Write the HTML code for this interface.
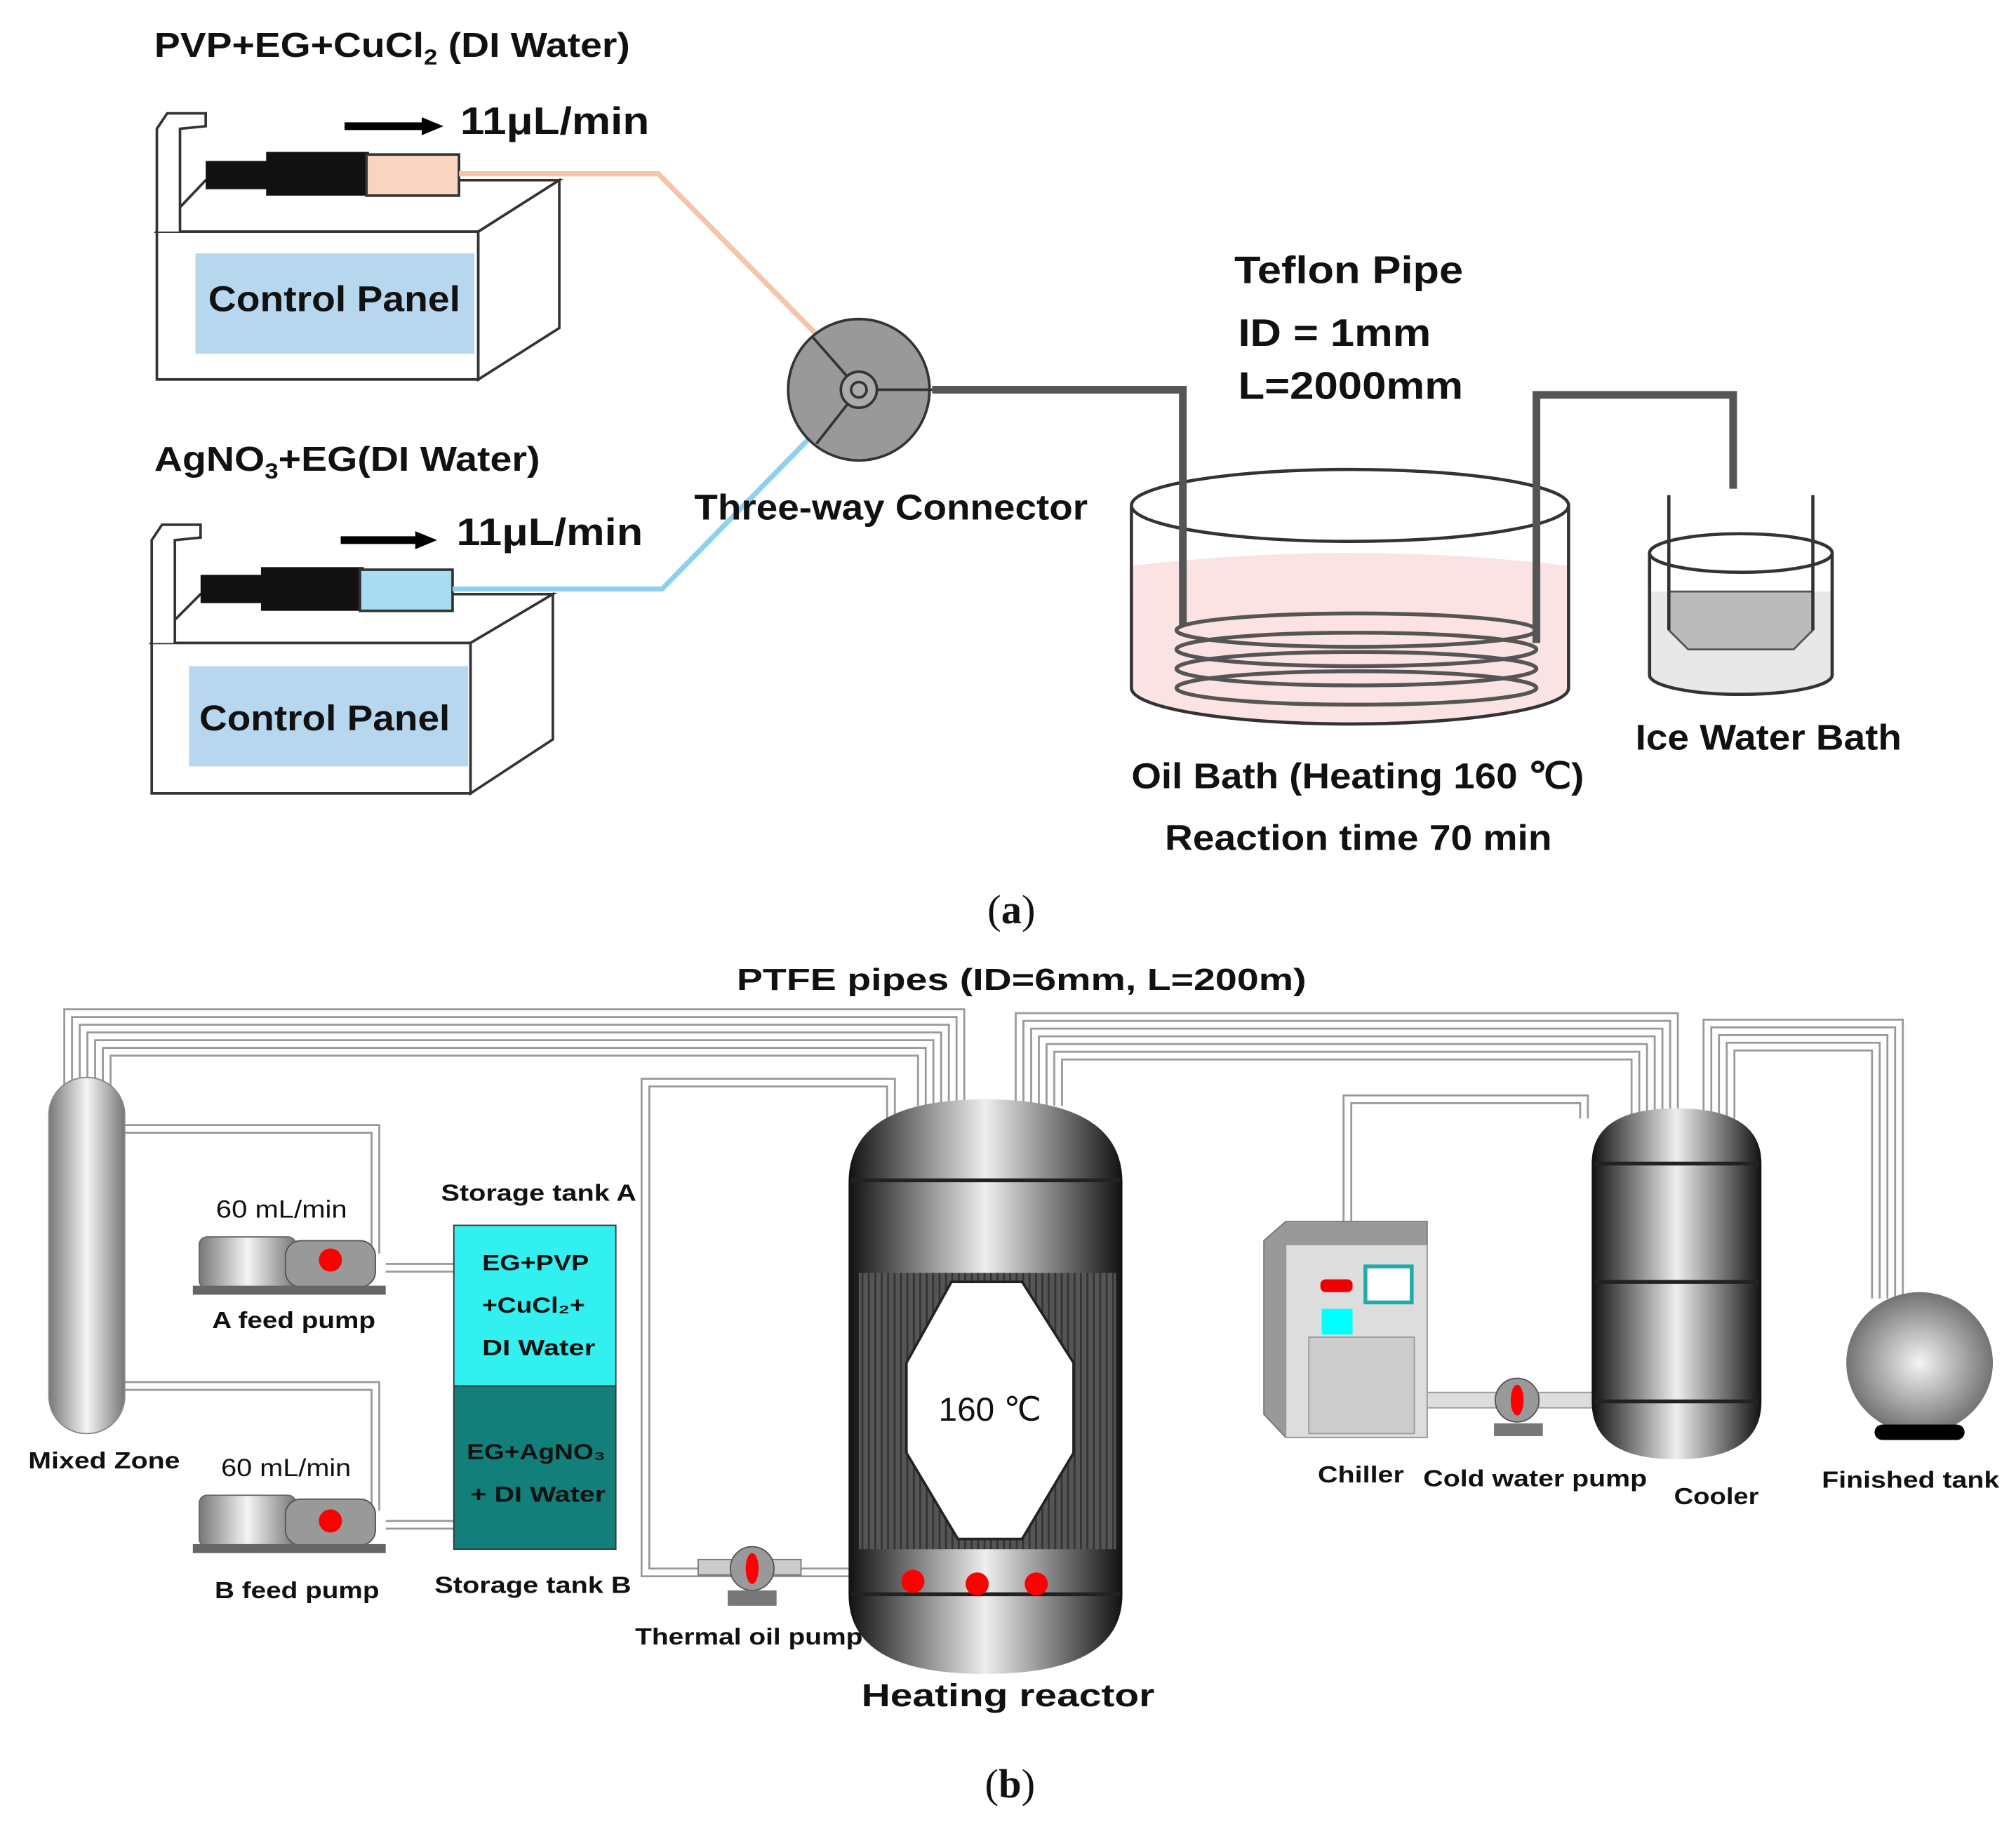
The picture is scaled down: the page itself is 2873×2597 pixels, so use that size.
<!DOCTYPE html>
<html><head><meta charset="utf-8"><style>
html,body{margin:0;padding:0;background:#fff}
svg{display:block}
text{font-family:"Liberation Sans",sans-serif;font-weight:bold;fill:#111}
.s{font-family:"Liberation Serif",serif;font-weight:normal}
</style></head><body>
<svg width="2873" height="2597" viewBox="0 0 1568 1417" xmlns="http://www.w3.org/2000/svg">
<defs>
<linearGradient id="cyl" x1="0" x2="1" y1="0" y2="0">
<stop offset="0" stop-color="#111"/><stop offset="0.5" stop-color="#eee"/><stop offset="1" stop-color="#111"/></linearGradient>
<linearGradient id="cylg" x1="0" x2="1" y1="0" y2="0">
<stop offset="0" stop-color="#777"/><stop offset="0.5" stop-color="#f4f4f4"/><stop offset="1" stop-color="#777"/></linearGradient>
<radialGradient id="sph" cx="0.5" cy="0.5" r="0.55">
<stop offset="0" stop-color="#f4f4f4"/><stop offset="1" stop-color="#666"/></radialGradient>
<pattern id="stripes" width="5" height="10" patternUnits="userSpaceOnUse">
<rect width="5" height="10" fill="#555"/><rect width="1.5" height="10" fill="#333"/></pattern>
</defs>

<!-- ===== (a) ===== -->
<text x="120" y="44" font-size="27" textLength="370" lengthAdjust="spacingAndGlyphs">PVP+EG+CuCl<tspan font-size="17" dy="6">2</tspan><tspan dy="-6"> (DI Water)</tspan></text>

<g stroke="#333" stroke-width="2" fill="#fff">
<path d="M122 180 L160 140 L435 140 L372 180 Z"/>
<rect x="122" y="180" width="250" height="115"/>
<path d="M372 180 L435 140 L435 255 L372 295 Z"/>
<path d="M122 180 L122 100 L130 88 L160 88 L160 98 L140 100 L140 180"/>
</g>
<rect x="152" y="197" width="217" height="78" fill="#b7d7ee"/>
<text x="162" y="242" font-size="28" textLength="196" lengthAdjust="spacingAndGlyphs">Control Panel</text>
<rect x="160" y="125" width="50" height="22" fill="#111"/>
<rect x="207" y="118" width="80" height="34" fill="#111"/>
<rect x="285" y="120" width="72" height="32" fill="#f7d5c0" stroke="#333" stroke-width="2"/>
<line x1="268" y1="98" x2="330" y2="98" stroke="#000" stroke-width="6"/>
<polygon points="328,91 345,98 328,105" fill="#000"/>
<text x="358" y="104" font-size="30" textLength="147" lengthAdjust="spacingAndGlyphs">11μL/min</text>
<polyline points="357,135 512,135 640,265" fill="none" stroke="#f4c5a8" stroke-width="4"/>

<text x="120" y="366" font-size="27" textLength="300" lengthAdjust="spacingAndGlyphs">AgNO<tspan font-size="17" dy="6">3</tspan><tspan dy="-6">+EG(DI Water)</tspan></text>
<g stroke="#333" stroke-width="2" fill="#fff">
<path d="M118 500 L156 462 L430 462 L366 500 Z"/>
<rect x="118" y="500" width="248" height="117"/>
<path d="M366 500 L430 462 L430 575 L366 617 Z"/>
<path d="M118 500 L118 420 L126 408 L156 408 L156 418 L136 420 L136 500"/>
</g>
<rect x="147" y="518" width="217" height="78" fill="#b7d7ee"/>
<text x="155" y="568" font-size="28" textLength="195" lengthAdjust="spacingAndGlyphs">Control Panel</text>
<rect x="156" y="447" width="50" height="22" fill="#111"/>
<rect x="203" y="441" width="80" height="34" fill="#111"/>
<rect x="280" y="443" width="72" height="32" fill="#a8dcf0" stroke="#333" stroke-width="2"/>
<line x1="265" y1="420" x2="325" y2="420" stroke="#000" stroke-width="6"/>
<polygon points="323,413 340,420 323,427" fill="#000"/>
<text x="355" y="424" font-size="30" textLength="145" lengthAdjust="spacingAndGlyphs">11μL/min</text>
<polyline points="352,458 515,458 640,330" fill="none" stroke="#8fd0ee" stroke-width="4"/>

<circle cx="668" cy="303" r="55" fill="#999" stroke="#333" stroke-width="2"/>
<path d="M668 303 L725 303 M668 303 L632 262 M668 303 L635 345" stroke="#333" stroke-width="2"/>
<circle cx="668" cy="303" r="14" fill="#aaa" stroke="#333" stroke-width="2"/>
<circle cx="668" cy="303" r="6" fill="#aaa" stroke="#333" stroke-width="2"/>
<text x="540" y="404" font-size="28" textLength="306" lengthAdjust="spacingAndGlyphs">Three-way Connector</text>

<text x="960" y="220" font-size="30" textLength="178" lengthAdjust="spacingAndGlyphs">Teflon Pipe</text>
<text x="963" y="269" font-size="30" textLength="150" lengthAdjust="spacingAndGlyphs">ID = 1mm</text>
<text x="963" y="310" font-size="30" textLength="175" lengthAdjust="spacingAndGlyphs">L=2000mm</text>

<path d="M880 440 Q1050 420 1220 440 L1220 535 A170 28 0 0 1 880 535 Z" fill="#fbe3e3"/>
<path d="M880 393 L880 535 A170 28 0 0 0 1220 535 L1220 393" fill="none" stroke="#333" stroke-width="2.5"/>
<ellipse cx="1050" cy="393" rx="170" ry="28" fill="none" stroke="#333" stroke-width="2.5"/>
<polyline points="725,303 920,303 920,487" fill="none" stroke="#555" stroke-width="6"/>
<polyline points="1195,500 1195,307 1348,307 1348,380" fill="none" stroke="#555" stroke-width="6"/>
<g fill="none" stroke="#555" stroke-width="3">
<ellipse cx="1055" cy="490" rx="140" ry="13"/>
<ellipse cx="1055" cy="505" rx="140" ry="13"/>
<ellipse cx="1055" cy="520" rx="140" ry="13"/>
<ellipse cx="1055" cy="535" rx="140" ry="13"/>
</g>
<text x="880" y="613" font-size="28" textLength="352" lengthAdjust="spacingAndGlyphs">Oil Bath (Heating 160 ℃)</text>
<text x="906" y="661" font-size="28" textLength="301" lengthAdjust="spacingAndGlyphs">Reaction time 70 min</text>

<path d="M1283 460 L1425 460 L1425 525 A71 15 0 0 1 1283 525 Z" fill="#e8e8e8"/>
<path d="M1298 460 L1410 460 L1410 490 L1395 505 L1313 505 L1298 490 Z" fill="#bbb" stroke="#555" stroke-width="1.5"/>
<path d="M1283 430 L1283 525 A71 15 0 0 0 1425 525 L1425 430" fill="none" stroke="#333" stroke-width="2.5"/>
<ellipse cx="1354" cy="430" rx="71" ry="15" fill="none" stroke="#333" stroke-width="2.5"/>
<line x1="1298" y1="385" x2="1298" y2="490" stroke="#333" stroke-width="2.5"/>
<line x1="1410" y1="385" x2="1410" y2="490" stroke="#333" stroke-width="2.5"/>
<text x="1272" y="583" font-size="28" textLength="207" lengthAdjust="spacingAndGlyphs">Ice Water Bath</text>

<text x="768" y="718" font-size="32" class="s">(<tspan style="font-weight:bold">a</tspan>)</text>

<!-- ===== (b) ===== -->
<text x="573" y="770" font-size="24" textLength="443" lengthAdjust="spacingAndGlyphs">PTFE pipes (ID=6mm, L=200m)</text>

<g fill="none" stroke="#999" stroke-width="1.5">
<polyline points="50,845 50,785 750,785 750,860"/>
<polyline points="56,845 56,791 744,791 744,860"/>
<polyline points="62,845 62,797 738,797 738,860"/>
<polyline points="68,845 68,803 732,803 732,860"/>
<polyline points="74,845 74,809 726,809 726,860"/>
<polyline points="80,845 80,815 720,815 720,860"/>
<polyline points="86,845 86,821 714,821 714,860"/>
<polyline points="790,860 790,788 1305,788 1305,870"/>
<polyline points="796,860 796,794 1299,794 1299,870"/>
<polyline points="802,860 802,800 1293,800 1293,870"/>
<polyline points="808,860 808,806 1287,806 1287,870"/>
<polyline points="814,860 814,812 1281,812 1281,870"/>
<polyline points="820,860 820,818 1275,818 1275,870"/>
<polyline points="826,860 826,824 1269,824 1269,870"/>
<polyline points="1325,870 1325,793 1480,793 1480,1010"/>
<polyline points="1331,870 1331,799 1474,799 1474,1010"/>
<polyline points="1337,870 1337,805 1468,805 1468,1010"/>
<polyline points="1343,870 1343,811 1462,811 1462,1010"/>
<polyline points="1349,870 1349,817 1456,817 1456,1010"/>
<polyline points="1045,955 1045,852 1235,852 1235,870"/>
<polyline points="1051,955 1051,858 1229,858 1229,870"/>
<polyline points="95,875 295,875 295,975"/>
<polyline points="95,881 289,881 289,975"/>
<polyline points="95,1075 295,1075 295,1175"/>
<polyline points="95,1081 289,1081 289,1175"/>
<polyline points="660,1220 505,1220 505,845 690,845 690,870"/>
<polyline points="660,1226 499,1226 499,839 696,839 696,870"/>
<polyline points="300,983 353,983"/><polyline points="300,989 353,989"/>
<polyline points="300,1183 353,1183"/><polyline points="300,1189 353,1189"/>
</g>

<rect x="38" y="838" width="59" height="277" rx="29" fill="url(#cylg)" stroke="#888"/>
<text x="22" y="1142" font-size="18" textLength="118" lengthAdjust="spacingAndGlyphs">Mixed Zone</text>

<g>
<rect x="155" y="962" width="75" height="40" rx="6" fill="url(#cylg)" stroke="#666"/>
<rect x="222" y="965" width="70" height="36" rx="12" fill="#999" stroke="#555"/>
<circle cx="257" cy="980" r="9" fill="#f00"/>
<rect x="150" y="1000" width="150" height="7" fill="#666"/>
<text x="168" y="947" font-size="19" style="font-weight:normal" textLength="102" lengthAdjust="spacingAndGlyphs">60 mL/min</text>
<text x="165" y="1033" font-size="18" textLength="127" lengthAdjust="spacingAndGlyphs">A feed pump</text>
<rect x="155" y="1163" width="75" height="40" rx="6" fill="url(#cylg)" stroke="#666"/>
<rect x="222" y="1166" width="70" height="36" rx="12" fill="#999" stroke="#555"/>
<circle cx="257" cy="1183" r="9" fill="#f00"/>
<rect x="150" y="1201" width="150" height="7" fill="#666"/>
<text x="172" y="1148" font-size="19" style="font-weight:normal" textLength="101" lengthAdjust="spacingAndGlyphs">60 mL/min</text>
<text x="167" y="1243" font-size="18" textLength="128" lengthAdjust="spacingAndGlyphs">B feed pump</text>
</g>

<text x="343" y="934" font-size="18" textLength="152" lengthAdjust="spacingAndGlyphs">Storage tank A</text>
<rect x="353" y="953" width="126" height="125" fill="#33f0f0" stroke="#333"/>
<rect x="353" y="1078" width="126" height="127" fill="#137f7a" stroke="#333"/>
<text x="375" y="988" font-size="17" textLength="83" lengthAdjust="spacingAndGlyphs">EG+PVP</text>
<text x="375" y="1021" font-size="17" textLength="80" lengthAdjust="spacingAndGlyphs">+CuCl₂+</text>
<text x="375" y="1054" font-size="17" textLength="88" lengthAdjust="spacingAndGlyphs">DI Water</text>
<text x="363" y="1135" font-size="17" textLength="108" lengthAdjust="spacingAndGlyphs">EG+AgNO₃</text>
<text x="366" y="1168" font-size="17" textLength="105" lengthAdjust="spacingAndGlyphs">+ DI Water</text>
<text x="338" y="1239" font-size="18" textLength="153" lengthAdjust="spacingAndGlyphs">Storage tank B</text>

<path d="M660 920 Q660 855 766 855 Q873 855 873 920 L873 1240 Q873 1302 766 1302 Q660 1302 660 1240 Z" fill="url(#cyl)"/>
<line x1="662" y1="918" x2="871" y2="918" stroke="#222" stroke-width="3"/>
<rect x="668" y="990" width="200" height="215" fill="url(#stripes)"/>
<polygon points="740,997 795,997 835,1060 835,1130 795,1197 745,1197 705,1130 705,1060" fill="#fff" stroke="#222" stroke-width="2"/>
<text x="730" y="1105" font-size="26" style="font-weight:normal" textLength="80" lengthAdjust="spacingAndGlyphs">160 ℃</text>
<line x1="662" y1="1240" x2="871" y2="1240" stroke="#222" stroke-width="3"/>
<circle cx="710" cy="1230" r="9" fill="#f00"/><circle cx="760" cy="1232" r="9" fill="#f00"/><circle cx="806" cy="1232" r="9" fill="#f00"/>
<text x="670" y="1327" font-size="25" textLength="228" lengthAdjust="spacingAndGlyphs">Heating reactor</text>

<rect x="543" y="1213" width="80" height="12" fill="#ccc" stroke="#777"/>
<circle cx="585" cy="1220" r="17" fill="#999" stroke="#555"/>
<ellipse cx="585" cy="1220" rx="5" ry="12" fill="#f00"/>
<rect x="566" y="1237" width="38" height="12" fill="#777"/>
<text x="494" y="1279" font-size="18" textLength="177" lengthAdjust="spacingAndGlyphs">Thermal oil pump</text>

<path d="M983 965 L1000 950 L1110 950 L1110 1118 L1000 1118 L983 1100 Z" fill="#999" stroke="#777"/>
<rect x="1000" y="968" width="110" height="150" fill="#ddd" stroke="#999"/>
<rect x="1027" y="995" width="25" height="10" rx="4" fill="#e00"/>
<rect x="1062" y="985" width="36" height="28" fill="#fff" stroke="#2aa" stroke-width="3"/>
<rect x="1028" y="1018" width="24" height="20" fill="#0ff"/>
<rect x="1018" y="1040" width="82" height="75" fill="#ccc" stroke="#999"/>
<text x="1025" y="1153" font-size="18" textLength="67" lengthAdjust="spacingAndGlyphs">Chiller</text>

<rect x="1110" y="1083" width="130" height="12" fill="#ddd" stroke="#999"/>
<circle cx="1180" cy="1089" r="17" fill="#999" stroke="#555"/>
<ellipse cx="1180" cy="1089" rx="5" ry="12" fill="#f00"/>
<rect x="1162" y="1107" width="38" height="10" fill="#777"/>
<text x="1107" y="1156" font-size="18" textLength="174" lengthAdjust="spacingAndGlyphs">Cold water pump</text>

<path d="M1238 905 Q1238 862 1304 862 Q1370 862 1370 905 L1370 1090 Q1370 1135 1304 1135 Q1238 1135 1238 1090 Z" fill="url(#cyl)"/>
<line x1="1240" y1="905" x2="1368" y2="905" stroke="#222" stroke-width="3"/>
<line x1="1240" y1="997" x2="1368" y2="997" stroke="#222" stroke-width="3"/>
<line x1="1240" y1="1090" x2="1368" y2="1090" stroke="#222" stroke-width="3"/>
<text x="1302" y="1170" font-size="18" textLength="66" lengthAdjust="spacingAndGlyphs">Cooler</text>

<ellipse cx="1493" cy="1060" rx="57" ry="55" fill="url(#sph)"/>
<rect x="1458" y="1108" width="70" height="12" rx="6" fill="#000"/>
<text x="1417" y="1157" font-size="18" textLength="138" lengthAdjust="spacingAndGlyphs">Finished tank</text>

<text x="766" y="1398" font-size="32" class="s">(<tspan style="font-weight:bold">b</tspan>)</text>
</svg>
</body></html>
